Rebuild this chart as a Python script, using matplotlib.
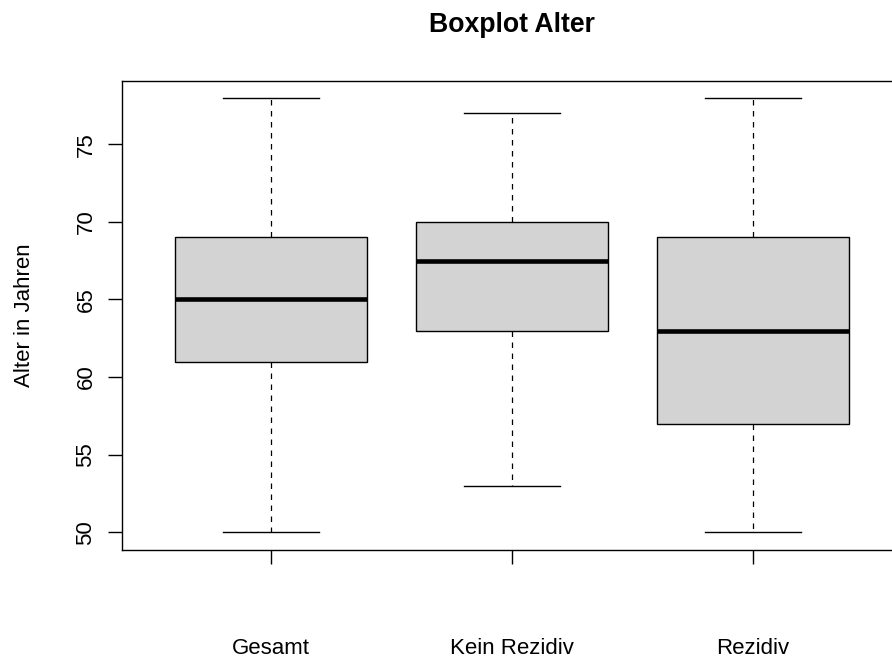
import numpy as np
import matplotlib
matplotlib.use("Agg")
from matplotlib import pyplot as plt

plt.rcParams['font.family'] = ['Liberation Sans', 'DejaVu Sans']

gruppen = ['Gesamt', 'Kein Rezidiv', 'Rezidiv']
minimum = [50, 53, 50]
q1 = [61, 63, 57]
median = [65, 67.5, 63]
q3 = [69, 70, 69]
maximum = [78, 77, 78]

stats = []
for i, name in enumerate(gruppen):
    stats.append({'label': name, 'whislo': minimum[i], 'q1': q1[i],
                  'med': median[i], 'q3': q3[i], 'whishi': maximum[i],
                  'fliers': []})

fig = plt.figure(figsize=(8.92, 6.6), dpi=100)
# plot region runs past the right edge of the image (cropped R device)
ax = fig.add_axes([121.5/892, 110.5/660, 781/892, 469/660])

ax.bxp(stats, positions=[1, 2, 3], widths=0.8, patch_artist=True,
       boxprops=dict(facecolor='#D3D3D3', edgecolor='black', linewidth=1.0),
       medianprops=dict(color='black', linewidth=3.3, solid_capstyle='butt'),
       whiskerprops=dict(color='black', linewidth=0.9, linestyle=(0, (4.4, 4.4))),
       capprops=dict(color='black', linewidth=1.0),
       capwidths=0.4)

ax.set_xlim(0.38, 3.62)
ax.set_ylim(48.88, 79.12)
ax.set_yticks([50, 55, 60, 65, 70, 75])
ax.set_xticks([1, 2, 3])
ax.set_xticklabels(gruppen)
for lab in ax.get_yticklabels():
    lab.set_rotation(90)
    lab.set_va('center')

ax.tick_params(axis='both', direction='out', length=10, width=1.0, labelsize=16)
ax.tick_params(axis='x', pad=54)
ax.tick_params(axis='y', pad=8)
for s in ax.spines.values():
    s.set_linewidth(1.0)

ax.set_ylabel('Alter in Jahren', fontsize=16)
ax.yaxis.set_label_coords((35 - 121.5) / 781, 0.5)
fig.text(512/892, 1 - 32/660, 'Boxplot Alter', ha='center', va='baseline',
         fontsize=19.2, fontweight='bold')

plt.savefig('out.png', dpi=100)
